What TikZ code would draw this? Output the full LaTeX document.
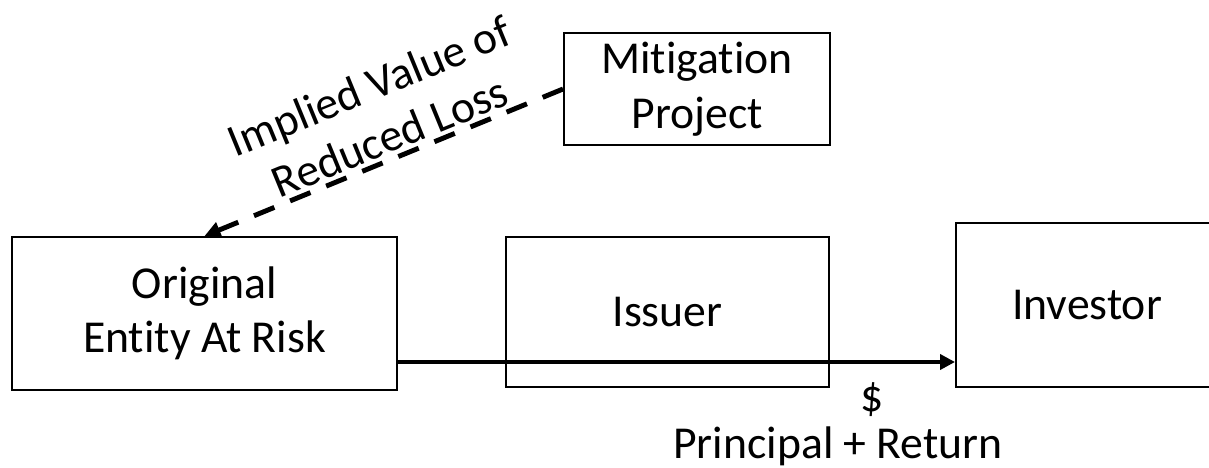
\documentclass[tikz,border=0pt]{standalone}
\usepackage{fontspec}
\setmainfont{Carlito}[Ligatures=NoCommon]
\usetikzlibrary{arrows.meta,positioning}

\begin{document}
\begin{tikzpicture}[font=\fontsize{26}{31}\selectfont,
  box/.style={draw,line width=1.1pt,align=center,inner sep=0pt},
  flow/.style={line width=2.6pt,-{Triangle[length=0.3cm,width=0.3cm]}},
  benefit/.style={line width=2.8pt,dash pattern=on 0.44cm off 0.34cm,-{Triangle[length=0.32cm,width=0.32cm]}}]
\useasboundingbox (0,0) rectangle (24.18,9.34);
%
% boxes
\node[box,minimum width=7.70cm,minimum height=3.06cm] (orig) at (4.09,3.07) {Original\\Entity At Risk};
\node[box,minimum width=6.46cm,minimum height=3.00cm] (iss) at (13.35,3.10) {Issuer};
\node[box,minimum width=5.24cm,minimum height=3.28cm] (inv) at (21.74,3.24) {Investor};
\node[box,minimum width=5.32cm,minimum height=2.24cm] (mit) at (13.94,7.56) {Mitigation\\Project};

% money flow
\draw[flow] ([yshift=-0.97cm]orig.east) coordinate (out) -- (out -| inv.west);
\node (dollar) at (17.44,1.34) {\$};
\node[anchor=base] (ret) at (16.76,0.18) {Principal + Return};

% reduced loss
\draw[benefit] (mit.west) -- node[sloped,above,align=center,pos=0.46,inner sep=2pt] (val) {Implied Value of\\Reduced Loss} (orig.north);
\end{tikzpicture}
\end{document}
